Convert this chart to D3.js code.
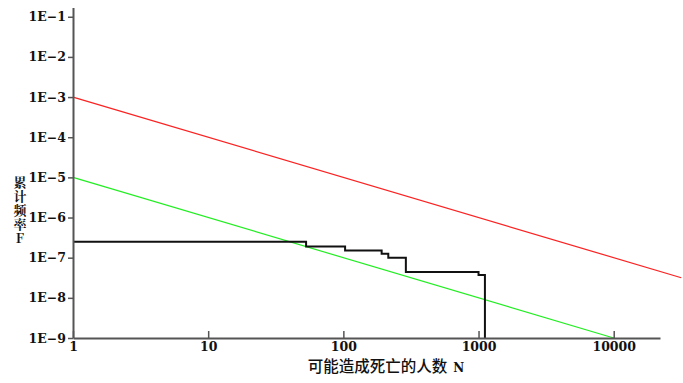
<!DOCTYPE html>
<html>
<head>
<meta charset="utf-8">
<script src="https://cdn.jsdelivr.net/npm/d3@7"></script>
<style>
  body { margin: 0; background: #fff; }
  svg { display: block; }
</style>
</head>
<body>
<div id="chart"></div>
<script>
(function() {
    'use strict';

    // data
    var xTicks = [1, 10, 100, 1000, 10000];
    var yTicks = [1e-9, 1e-8, 1e-7, 1e-6, 1e-5, 1e-4, 1e-3, 1e-2, 1e-1];
    var yTickLabels = ["1E−9", "1E−8", "1E−7", "1E−6", "1E−5", "1E−4", "1E−3", "1E−2", "1E−1"];

    // upper limit line (red) and lower limit line (green)
    var upperN = [1, 31600];
    var upperF = [1e-3, 1e-3 / 31600];
    var lowerN = [1, 10000];
    var lowerF = [1e-5, 1e-9];

    // cumulative frequency curve (black, stepped)
    var curveN = [1, 53, 103, 192, 215, 290, 1000, 1115];
    var curveF = [2.5e-7, 1.9e-7, 1.5e-7, 1.25e-7, 1.0e-7, 4.4e-8, 3.7e-8, 1e-9];

    var xTitle = "可能造成死亡的人数";
    var xTitleVar = "N";
    var yTitle = "累计频率F";

    var width = 683, height = 383;

    var svg = d3.select("#chart").append("svg")
        .attr("width", width)
        .attr("height", height);

    var x = d3.scaleLog().domain([1, 22000]).range([73, 660]);
    var y = d3.scaleLog().domain([1e-9, 0.17]).range([338, 7.5]);

    var axisColor = "#555";

    function pairs(ns, fs) {
        return ns.map(function(n, i) { return [n, fs[i]]; });
    }

    var line = d3.line()
        .x(function(d) { return x(d[0]); })
        .y(function(d) { return y(d[1]); });

    // limit lines
    svg.append("path")
        .attr("d", line(pairs(upperN, upperF)))
        .attr("fill", "none")
        .attr("stroke", "#ff2020")
        .attr("stroke-width", 1.2);

    svg.append("path")
        .attr("d", line(pairs(lowerN, lowerF)))
        .attr("fill", "none")
        .attr("stroke", "#22ee22")
        .attr("stroke-width", 1.2);

    // cumulative curve
    var stepLine = d3.line()
        .x(function(d) { return x(d[0]); })
        .y(function(d) { return y(d[1]); })
        .curve(d3.curveStepAfter);

    svg.append("path")
        .attr("d", stepLine(pairs(curveN, curveF)))
        .attr("fill", "none")
        .attr("stroke", "#111")
        .attr("stroke-width", 2);

    // y axis
    var yAxis = d3.axisLeft(y)
        .tickValues(yTicks)
        .tickFormat(function(d, i) { return yTickLabels[i]; })
        .tickSize(5)
        .tickPadding(2)
        .tickSizeOuter(0);

    var gy = svg.append("g")
        .attr("transform", "translate(73,0)")
        .call(yAxis);

    // x axis, ticks pointing up into the plot
    var xAxis = d3.axisBottom(x)
        .tickValues(xTicks)
        .tickFormat(d3.format("d"))
        .tickSize(-7)
        .tickPadding(2)
        .tickSizeOuter(0);

    var gx = svg.append("g")
        .attr("transform", "translate(0,338)")
        .call(xAxis);

    [gx, gy].forEach(function(g) {
        g.select(".domain").attr("stroke", axisColor).attr("stroke-width", 2);
        g.selectAll(".tick line").attr("stroke", axisColor).attr("stroke-width", 1.5);
        g.selectAll("text")
            .attr("fill", "#111")
            .style("font-family", "'DejaVu Serif', 'Liberation Serif', serif")
            .style("font-weight", "bold")
            .style("font-size", "12.5px");
    });
    gx.selectAll("text").attr("dy", "0.85em");

    // axis titles
    var xt = svg.append("text")
        .attr("x", 386)
        .attr("y", 372)
        .attr("text-anchor", "middle")
        .attr("fill", "#111");
    xt.append("tspan")
        .style("font-family", "'Noto Sans CJK SC', sans-serif")
        .style("font-size", "15.5px")
        .style("font-weight", "500")
        .text(xTitle);
    xt.append("tspan")
        .attr("dx", 6)
        .style("font-family", "'DejaVu Serif', serif")
        .style("font-weight", "bold")
        .style("font-size", "12px")
        .text(xTitleVar);

    // vertical y title, one glyph under the other
    svg.append("text")
        .attr("x", 20)
        .attr("y", 176)
        .style("writing-mode", "vertical-rl")
        .style("text-orientation", "upright")
        .style("font-family", "'Noto Serif CJK SC', 'Noto Sans CJK SC', serif")
        .style("font-weight", "bold")
        .style("font-size", "13px")
        .style("letter-spacing", "1px")
        .attr("fill", "#111")
        .text(yTitle);
})();
</script>
</body>
</html>
